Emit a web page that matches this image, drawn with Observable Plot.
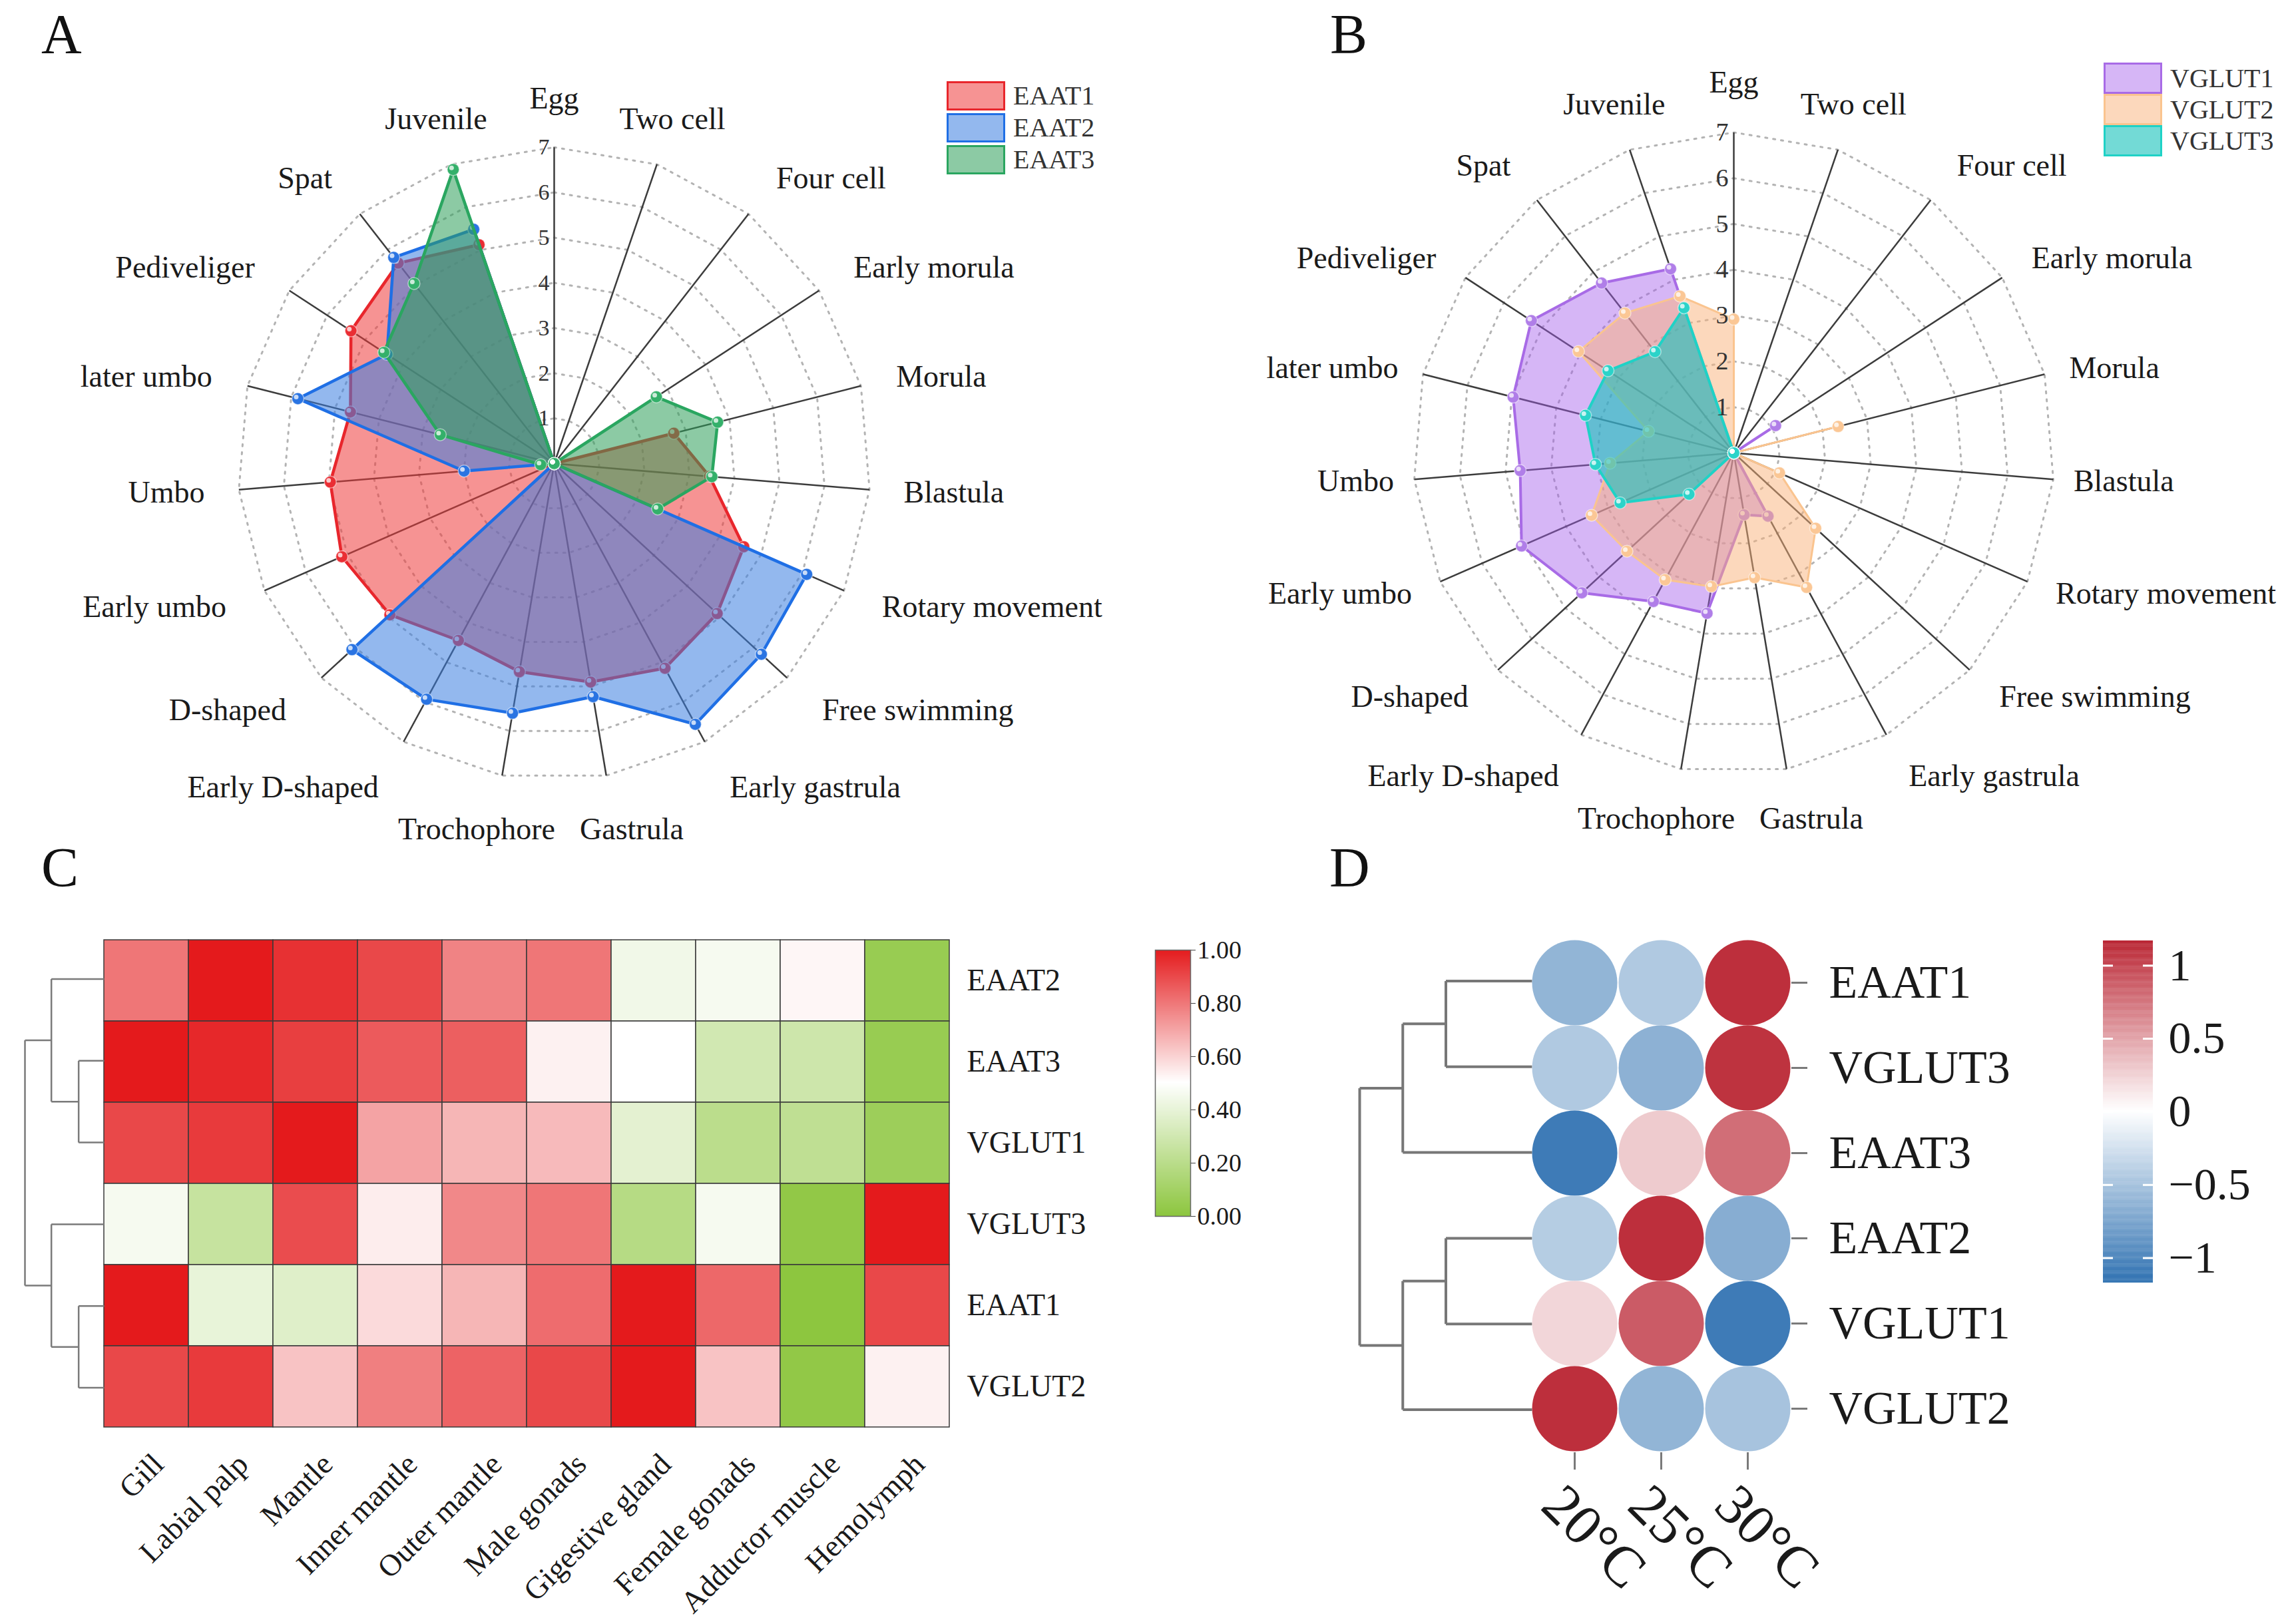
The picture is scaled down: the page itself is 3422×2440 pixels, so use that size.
<!DOCTYPE html>
<html><head><meta charset="utf-8">
<script src="https://cdn.jsdelivr.net/npm/d3@7"></script>
<script src="https://cdn.jsdelivr.net/npm/@observablehq/plot@0.6"></script>
<style>
html,body{margin:0;padding:0;background:#fff;}
#fig{position:relative;width:3422px;height:2440px;background:#fff;font-family:"Liberation Serif","Times New Roman",serif;overflow:hidden}
.abs{position:absolute}
.abs svg{display:block}
.letter{position:absolute;font-size:84px;color:#111;line-height:1}
.legend{position:absolute}
.legrow{display:flex;align-items:center}
.sw{width:88px;box-sizing:border-box;border:3px solid}
.legrow span{font-size:40px;margin-left:12px;color:#333;line-height:1}
</style></head><body><div id="fig"></div>
<script>
const SERIF = '"Liberation Serif","Times New Roman",serif';

// ---------- Panel A / B data (radar) ----------
const stages = ["Egg","Two cell","Four cell","Early morula","Morula","Blastula","Rotary movement","Free swimming","Early gastrula","Gastrula","Trochophore","Early D-shaped","D-shaped","Early umbo","Umbo","later umbo","Pediveliger","Spat","Juvenile"];
const levels = [1,2,3,4,5,6,7];
const EAAT1 = [0,0,0,0,2.73,3.45,4.58,4.90,5.15,4.90,4.67,4.45,4.94,5.13,4.97,4.65,5.37,5.62,5.12];
const EAAT2 = [0,0,0,0,0,0,6.10,6.23,6.56,5.23,5.60,5.93,6.08,0,2.00,5.85,4.42,5.78,5.48];
const EAAT3 = [0,0,0,2.70,3.73,3.50,2.50,0,0,0,0,0,0,0,0.30,2.60,4.50,5.05,6.88];
const VGLUT1 = [0,0,0,1.09,0,0,0,0,1.57,1.37,3.55,3.69,4.51,5.06,4.68,4.97,5.28,4.70,4.25];
const VGLUT2 = [2.92,0,0,0,2.35,0,1.09,2.43,3.34,2.76,2.96,3.15,3.17,3.39,2.71,1.92,4.05,3.87,3.62];
const VGLUT3 = [0,0,0,0,0,0,0,0,0,0,0,0,1.33,2.71,3.03,3.34,3.28,2.80,3.35];

// ---------- Panel C data (tissue heatmap) ----------
const tissues = ["Gill","Labial palp","Mantle","Inner mantle","Outer mantle","Male gonads","Gigestive gland","Female gonads","Adductor muscle","Hemolymph"];
const genesC = ["EAAT2","EAAT3","VGLUT1","VGLUT3","EAAT1","VGLUT2"];
const tisEAAT2  = [0.80,1.00,0.95,0.90,0.77,0.80,0.44,0.46,0.52,0.05];
const tisEAAT3  = [1.00,0.97,0.92,0.86,0.85,0.53,0.50,0.30,0.28,0.05];
const tisVGLUT1 = [0.90,0.93,1.00,0.70,0.66,0.65,0.38,0.20,0.22,0.07];
const tisVGLUT3 = [0.46,0.25,0.89,0.54,0.76,0.80,0.18,0.46,0.02,1.00];
const tisEAAT1  = [1.00,0.40,0.36,0.58,0.66,0.82,1.00,0.83,0.00,0.90];
const tisVGLUT2 = [0.90,0.93,0.63,0.78,0.84,0.90,1.00,0.63,0.02,0.53];
const cLinkage = [["n1","EAAT3","VGLUT1",0.29],["n2","EAAT2","n1",0.60],["n3","EAAT1","VGLUT2",0.29],["n4","VGLUT3","n3",0.60],["n5","n2","n4",0.90]];
const cTicks = [0,0.2,0.4,0.6,0.8,1];

// ---------- Panel D data (temperature dot heatmap) ----------
const temps = ["20°C","25°C","30°C"];
const genesD = ["EAAT1","VGLUT3","EAAT3","EAAT2","VGLUT1","VGLUT2"];
const tmpEAAT1  = [-0.62,-0.45,1.12];
const tmpVGLUT3 = [-0.45,-0.65,1.10];
const tmpEAAT3  = [-1.10,0.28,0.78];
const tmpEAAT2  = [-0.42,1.12,-0.68];
const tmpVGLUT1 = [0.22,0.88,-1.10];
const tmpVGLUT2 = [1.12,-0.62,-0.50];
const dLinkage = [["m1","EAAT1","VGLUT3",0.5],["m2","m1","EAAT3",0.75],["m3","EAAT2","VGLUT1",0.5],["m4","m3","VGLUT2",0.75],["m5","m2","m4",1.0]];
const dTicks = [-1,-0.5,0,0.5,1];

// ---------- helpers ----------
const fig = document.getElementById("fig");
const baseStyle = {background:"transparent", overflow:"visible", maxWidth:"none", fontFamily:SERIF, color:"#1a1a1a"};
function place(el, left, top){
  const d = document.createElement("div");
  d.className = "abs"; d.style.left = left+"px"; d.style.top = top+"px";
  d.appendChild(el); fig.appendChild(d);
}
function letter(t, left, top){
  const d = document.createElement("div");
  d.className = "letter"; d.textContent = t; d.style.left = left+"px"; d.style.top = top+"px";
  fig.appendChild(d);
}
function rgba(c, a){ const k = d3.rgb(c); return `rgba(${k.r},${k.g},${k.b},${a})`; }
function legend(items, left, top, pitch, h){
  const L = document.createElement("div"); L.className = "legend";
  L.style.left = left+"px"; L.style.top = top+"px";
  for (const it of items){
    const r = document.createElement("div"); r.className = "legrow"; r.style.height = pitch+"px";
    const s = document.createElement("div"); s.className = "sw";
    s.style.height = h+"px"; s.style.background = rgba(it.fill, it.alpha); s.style.borderColor = it.border;
    const t = document.createElement("span"); t.textContent = it.name;
    r.appendChild(s); r.appendChild(t); L.appendChild(r);
  }
  fig.appendChild(L);
}

function radar({series, unit, cx, cy, width, height, tickFont, tickDx, labelR, upR, downR}){
  const N = stages.length;
  const ang = i => (i % N) * 2 * Math.PI / N;
  const ring = stages.concat([stages[0]]);
  const grid = levels.flatMap(l => ring.map((s,k) => ({l, x:l*Math.sin(ang(k)), y:l*Math.cos(ang(k))})));
  const top = levels[levels.length-1];
  const spokes = stages.map((s,i) => ({x:top*Math.sin(ang(i)), y:top*Math.cos(ang(i))}));
  const labels = stages.map((s,i) => {
    const a = ang(i), sn = Math.sin(a), cs = Math.cos(a);
    const anchor = sn > 0.4 ? "start" : sn < -0.4 ? "end" : "middle";
    const rpx = labelR + (cs > 0 ? upR : downR)*Math.abs(cs);
    const shift = (anchor === "middle" && cs < 0) ? sn*150 : 0;
    return {s, x:(rpx*sn + shift)/unit, y:rpx*cs/unit, anchor};
  });
  const marks = [
    Plot.line(grid, {x:"x", y:"y", z:"l", stroke:"#b3b3b3", strokeWidth:3, strokeDasharray:"3,9", strokeLinecap:"round"}),
    Plot.link(spokes, {x1:0, y1:0, x2:"x", y2:"y", stroke:"#3c3c3c", strokeWidth:2.5})
  ];
  for (const se of series){
    const pts = se.values.map((v,i) => ({x:v*Math.sin(ang(i)), y:v*Math.cos(ang(i))}));
    marks.push(Plot.line(pts.concat([pts[0]]), {x:"x", y:"y", fill:se.fill, fillOpacity:se.alpha, stroke:se.stroke, strokeWidth:se.sw, strokeLinejoin:"round"}));
    marks.push(Plot.dot(pts, {x:"x", y:"y", r:9, fill:se.dot, stroke:"white", strokeOpacity:0.5, strokeWidth:1.5}));
    marks.push(Plot.dot(pts, {x:"x", y:"y", r:3.5, fill:"white", fillOpacity:0.75, dx:-2.5, dy:-2.5}));
  }
  marks.push(Plot.text(levels, {x:0, y:d=>d, text:d=>String(d), textAnchor:"end", lineAnchor:"middle", dx:tickDx, fontSize:tickFont, fill:"#333"}));
  for (const anc of ["start","middle","end"]){
    marks.push(Plot.text(labels.filter(d => d.anchor === anc), {x:"x", y:"y", text:"s", textAnchor:anc, lineAnchor:"middle", fontSize:46, fill:"#1a1a1a"}));
  }
  return Plot.plot({
    width, height, margin:0,
    x:{domain:[-cx/unit, (width-cx)/unit], axis:null},
    y:{domain:[-(height-cy)/unit, cy/unit], axis:null},
    style:baseStyle, marks
  });
}

function dendroSegments(leaves, linkage){
  const pos = new Map(leaves.map((g,i) => [g, {y:i, h:0}]));
  const segs = [];
  for (const [id,a,b,h] of linkage){
    const A = pos.get(a), B = pos.get(b);
    segs.push({x1:h, y1:A.y, x2:h, y2:B.y});
    segs.push({x1:h, y1:A.y, x2:A.h, y2:A.y});
    segs.push({x1:h, y1:B.y, x2:B.h, y2:B.y});
    pos.set(id, {y:(A.y+B.y)/2, h});
  }
  return segs;
}

// ---------- Panel A ----------
const seriesA = [
  {name:"EAAT1", values:EAAT1, fill:"#ee3b3b", alpha:0.55, stroke:"#e8262c", dot:"#ea2e34", sw:4.5},
  {name:"EAAT2", values:EAAT2, fill:"#3a7de0", alpha:0.55, stroke:"#1f6fe5", dot:"#2a74e2", sw:4.5},
  {name:"EAAT3", values:EAAT3, fill:"#2e9e5a", alpha:0.55, stroke:"#2aa660", dot:"#34b06a", sw:4.5}
];
place(radar({series:seriesA, unit:67.9, cx:832, cy:696, width:1720, height:1300, tickFont:34, tickDx:-7, labelR:524, upR:24, downR:34}), 0, 0);
legend(seriesA.map(s => ({name:s.name, fill:s.fill, alpha:s.alpha, border:s.stroke})), 1422, 120, 48, 44);

// ---------- Panel B ----------
const seriesB = [
  {name:"VGLUT1", values:VGLUT1, fill:"#a55eea", alpha:0.45, stroke:"#a86be6", dot:"#b07ee8", sw:4},
  {name:"VGLUT2", values:VGLUT2, fill:"#f9b27a", alpha:0.5, stroke:"#fac48f", dot:"#fbc795", sw:3},
  {name:"VGLUT3", values:VGLUT3, fill:"#16c2bb", alpha:0.6, stroke:"#1fd2c6", dot:"#2bd3c9", sw:4}
];
place(radar({series:seriesB, unit:68.8, cx:884, cy:680, width:1702, height:1300, tickFont:38, tickDx:-8, labelR:508, upR:48, downR:50}), 1720, 0);
legend(seriesB.map(s => ({name:s.name, fill:s.fill, alpha:s.alpha, border:s.stroke})), 3160, 94, 47, 47);

// ---------- Panel C ----------
const cRows = {EAAT2:tisEAAT2, EAAT3:tisEAAT3, VGLUT1:tisVGLUT1, VGLUT3:tisVGLUT3, EAAT1:tisEAAT1, VGLUT2:tisVGLUT2};
const cData = genesC.flatMap(g => tissues.map((t,j) => ({gene:g, tissue:t, value:cRows[g][j]})));
const cColor = {type:"linear", domain:[0,0.5,1], range:["#8dc63f","#ffffff","#e41a1c"], interpolate:"rgb"};
place(Plot.plot({
  width:1700, height:1110, marginLeft:156, marginRight:274, marginTop:79, marginBottom:294,
  x:{type:"band", domain:tissues, padding:0}, y:{type:"band", domain:genesC, padding:0},
  color:cColor, style:baseStyle,
  marks:[
    Plot.cell(cData, {x:"tissue", y:"gene", fill:"value", stroke:"#3a3a3a", strokeWidth:1.5, inset:0}),
    Plot.axisY({anchor:"right", tickSize:0, tickPadding:26, fontSize:46, label:null, fill:"#1a1a1a"}),
    Plot.axisX({anchor:"bottom", tickSize:0, tickRotate:-45, textAnchor:"end", lineAnchor:"middle", tickPadding:46, dx:18, fontSize:46, label:null, fill:"#1a1a1a"})
  ]
}), 0, 1330);

const cSegs = dendroSegments(genesC, cLinkage);
place(Plot.plot({
  width:160, height:1110, marginLeft:37, marginRight:4, marginTop:79, marginBottom:294,
  x:{domain:[0.9,0], axis:null}, y:{domain:[genesC.length-0.5,-0.5], axis:null},
  style:baseStyle,
  marks:[Plot.link(cSegs, {x1:"x1", y1:"y1", x2:"x2", y2:"y2", stroke:"#7a7a7a", strokeWidth:2.5})]
}), 0, 1330);

const cGrad = d3.range(0, 1, 0.005);
place(Plot.plot({
  width:340, height:560, marginLeft:35, marginRight:252, marginTop:97, marginBottom:63,
  x:{domain:[0,1], axis:null}, y:{domain:[0,1]},
  color:cColor, style:baseStyle,
  marks:[
    Plot.rect(cGrad, {x1:0, x2:1, y1:d=>d, y2:d=>Math.min(1, d+0.0055), fill:d=>d}),
    Plot.frame({stroke:"#666", strokeWidth:1.5}),
    Plot.axisY({anchor:"right", ticks:cTicks, tickSize:7, tickPadding:3, tickFormat:d3.format(".2f"), fontSize:38, label:null, stroke:"#444", fill:"#1a1a1a"})
  ]
}), 1700, 1330);

// ---------- Panel D ----------
const dRows = {EAAT1:tmpEAAT1, VGLUT3:tmpVGLUT3, EAAT3:tmpEAAT3, EAAT2:tmpEAAT2, VGLUT1:tmpVGLUT1, VGLUT2:tmpVGLUT2};
const dData = genesD.flatMap(g => temps.map((t,j) => ({gene:g, temp:t, value:dRows[g][j]})));
const dColor = {type:"linear", domain:[-1.2,0,1.2], range:["#2c6fb0","#ffffff","#b8202e"], interpolate:"rgb"};

const dSegs = dendroSegments(genesD, dLinkage);
place(Plot.plot({
  width:302, height:1110, marginLeft:42, marginRight:1, marginTop:79, marginBottom:258,
  x:{domain:[1,0], axis:null}, y:{domain:[genesD.length-0.5,-0.5], axis:null},
  style:baseStyle,
  marks:[Plot.link(dSegs, {x1:"x1", y1:"y1", x2:"x2", y2:"y2", stroke:"#777", strokeWidth:4})]
}), 2000, 1330);

place(Plot.plot({
  width:700, height:1110, marginLeft:10, marginRight:300, marginTop:79, marginBottom:258,
  x:{type:"band", domain:temps, padding:0}, y:{type:"band", domain:genesD, padding:0},
  color:dColor, style:baseStyle,
  marks:[
    Plot.dot(dData, {x:"temp", y:"gene", r:64, fill:"value"}),
    Plot.axisY({anchor:"right", tickSize:24, fill:"none", stroke:"#7a7a7a", strokeWidth:3, label:null}),
    Plot.axisY({anchor:"right", tickSize:0, tickPadding:57, fontSize:70, label:null, fill:"#1a1a1a"}),
    Plot.axisX({anchor:"bottom", tickSize:26, fill:"none", stroke:"#7a7a7a", strokeWidth:3, label:null}),
    Plot.axisX({anchor:"bottom", tickSize:0, tickRotate:45, textAnchor:"start", lineAnchor:"middle", tickPadding:64, dx:-34, fontSize:86, label:null, fill:"#1a1a1a"})
  ]
}), 2290, 1330);

const dGrad = d3.range(-1.17, 1.17, 0.01);
place(Plot.plot({
  width:322, height:700, marginLeft:59, marginRight:188, marginTop:83, marginBottom:103,
  x:{domain:[0,1], axis:null}, y:{domain:[-1.17,1.17]},
  color:dColor, style:baseStyle,
  marks:[
    Plot.rect(dGrad, {x1:0, x2:1, y1:d=>d, y2:d=>Math.min(1.17, d+0.011), fill:d=>d}),
    Plot.ruleY(dTicks, {x1:0, x2:0.2, stroke:"white", strokeWidth:3}),
    Plot.ruleY(dTicks, {x1:0.8, x2:1, stroke:"white", strokeWidth:3}),
    Plot.axisY({anchor:"right", ticks:dTicks, tickSize:0, tickPadding:23, tickFormat:d3.format("~g"), fontSize:68, label:null, fill:"#1a1a1a"})
  ]
}), 3100, 1330);

// ---------- panel letters ----------
letter("A", 62, 10); letter("B", 1998, 10); letter("C", 62, 1262); letter("D", 1997, 1262);
</script></body></html>
